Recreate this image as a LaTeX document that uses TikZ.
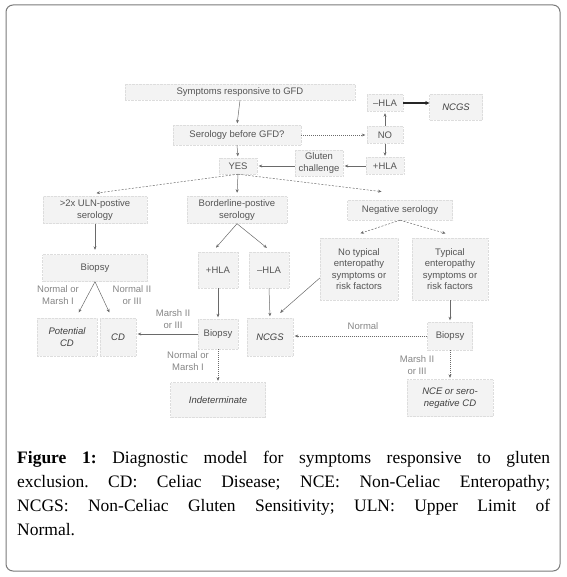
\documentclass[tikz,border=0pt]{standalone}
\usepackage{fontspec}
\setmainfont{Liberation Serif}
\newfontfamily\diagfont{Liberation Sans}
\usetikzlibrary{arrows.meta}
\definecolor{txtgray}{HTML}{555555}
\definecolor{itgray}{HTML}{404040}
\definecolor{lblgray}{HTML}{858585}
\definecolor{arrgray}{HTML}{6A6A6A}
\definecolor{boxfill}{HTML}{F3F3F3}
\definecolor{boxline}{HTML}{DDDDDD}
\definecolor{framecol}{HTML}{7A7A7A}
\tikzset{
  boxnode/.style={fill=boxfill, draw=boxline, densely dotted, align=center,
    inner sep=1pt, text=txtgray, font=\diagfont\fontsize{9.5}{11.5}\selectfont},
  itbox/.style={boxnode, text=itgray, font=\diagfont\itshape\fontsize{9.5}{11.5}\selectfont},
  lbl/.style={align=center, inner sep=0pt, text=lblgray, font=\diagfont\fontsize{9.5}{11.5}\selectfont},
  arr/.style={draw=arrgray, line width=0.5pt, shorten >=1.5pt, -{Stealth[length=3.5pt,width=3pt]}},
  dasharr/.style={arr, dash pattern=on 2pt off 1.5pt},
  dotarr/.style={arr, dash pattern=on 1pt off 1pt},
  plainln/.style={draw=arrgray, line width=0.5pt, shorten >=1.5pt, -{Stealth[length=3.5pt,width=3pt]}},
  thickarr/.style={draw=black!85, line width=1.3pt, -{Stealth[length=4pt,width=4pt]}}
}
\begin{document}
\begin{tikzpicture}[x=1pt,y=-1pt]
\useasboundingbox (0,0) rectangle (566,577);
\draw[framecol, line width=1pt, rounded corners=7pt] (6,5) rectangle (560,571);

% top part
\node[boxnode, minimum width=230pt, minimum height=16pt] (sym) at (240,92) {Symptoms responsive to GFD};
\node[boxnode, minimum width=128pt, minimum height=20pt] (ser) at (237,135) {Serology before GFD?};
\node[boxnode, minimum width=38pt, minimum height=16pt] (yes) at (238,166) {YES};
\node[boxnode, minimum width=48pt, minimum height=26pt] (glu) at (319,163) {Gluten\\challenge};
\node[boxnode, minimum width=38pt, minimum height=17pt] (phla) at (385,166) {+HLA};
\node[boxnode, minimum width=36pt, minimum height=17pt] (no) at (385,135) {NO};
\node[boxnode, minimum width=36pt, minimum height=17pt] (mhla) at (385,103) {\textendash HLA};
\node[itbox, minimum width=53pt, minimum height=26pt] (ncgsA) at (456,107) {NCGS};

\draw[arr] (sym.south) -- (ser.north);
\draw[arr] (ser.south) -- (yes.north);
\draw[dotarr] (ser.east) -- (ser.east -| no.west);
\draw[arr] (no.north) -- (mhla.south);
\draw[arr] (no.south) -- (phla.north);
\draw[arr] (phla.west) -- (phla.west -| glu.east);
\draw[arr] (glu.west |- yes.east) -- (yes.east);
\draw[thickarr] (mhla.east) -- (mhla.east -| ncgsA.west);

% second row
\node[boxnode, minimum width=104pt, minimum height=27pt] (uln) at (95,210) {>2x ULN-postive\\serology};
\node[boxnode, minimum width=100pt, minimum height=27pt] (bord) at (237,210) {Borderline-postive\\serology};
\node[boxnode, minimum width=105pt, minimum height=20pt] (neg) at (400,210) {Negative serology};

\draw[dasharr] (yes.south) -- ([yshift=3pt]uln.north);
\draw[arr] (yes.south) -- ([yshift=2pt]bord.north);
\draw[dasharr] (yes.south) -- ([xshift=-17pt,yshift=8pt]neg.north);

% third row
\node[boxnode, minimum width=105pt, minimum height=27pt] (biopL) at (95,268) {Biopsy};
\node[boxnode, minimum width=40pt, minimum height=36pt] (phlaM) at (218,270) {+HLA};
\node[boxnode, minimum width=40pt, minimum height=36pt] (mhlaM) at (269,270) {\textendash HLA};
\node[boxnode, minimum width=78pt, minimum height=62pt] (notyp) at (359,269) {No typical\\enteropathy\\symptoms or\\risk factors};
\node[boxnode, minimum width=76pt, minimum height=62pt] (typ) at (450,269) {Typical\\enteropathy\\symptoms or\\risk factors};

\draw[arr] (uln.south) -- ([yshift=3pt]biopL.north);
\draw[plainln] (bord.south) -- ([xshift=-3pt,yshift=3pt]phlaM.north);
\draw[plainln] (bord.south) -- ([xshift=-1pt,yshift=3pt]mhlaM.north);
\draw[dasharr] (neg.south) -- ([yshift=4pt]notyp.north);
\draw[dasharr] (neg.south) -- ([xshift=-3pt,yshift=4pt]typ.north);

% fourth row
\node[itbox, minimum width=60pt, minimum height=38pt] (potcd) at (67,337) {Potential\\CD};
\node[itbox, minimum width=36pt, minimum height=38pt] (cd) at (118,337) {CD};
\node[boxnode, minimum width=40pt, minimum height=30pt] (biopM) at (218,334) {Biopsy};
\node[itbox, minimum width=46pt, minimum height=38pt] (ncgsM) at (270,337) {NCGS};
\node[boxnode, minimum width=45pt, minimum height=28pt] (biopR) at (450,336) {Biopsy};

\node[lbl] (l1) at (58,295) {Normal or\\Marsh I};
\node[lbl] (l2) at (132,295) {Normal II\\or III};
\node[lbl] (l3) at (173,319) {Marsh II\\or III};
\node[lbl] (l4) at (188,361) {Normal or\\Marsh I};
\node[lbl] (l5) at (363,326) {Normal};
\node[lbl] (l6) at (417,365) {Marsh II\\or III};

\draw[plainln] (biopL.south) -- ([xshift=11pt,yshift=4pt]potcd.north);
\draw[plainln] (biopL.south) -- ([xshift=-8pt,yshift=4pt]cd.north);
\draw[arr] (phlaM.south) -- (biopM.north);
\draw[arr] (mhlaM.south) -- (ncgsM.north);
\draw[arr] ([yshift=-9pt]notyp.west) -- ([xshift=9pt,yshift=4pt]ncgsM.north);
\draw[arr] (biopM.west) -- (biopM.west -| cd.east);
\draw[arr] (typ.south) -- (biopR.north);
\draw[dotarr] (biopR.west) -- (biopR.west -| ncgsM.east);

% bottom row
\node[itbox, minimum width=95pt, minimum height=35pt] (indet) at (218,400) {Indeterminate};
\node[itbox, minimum width=86pt, minimum height=37pt] (nce) at (450,398) {NCE or sero-\\negative CD};

\draw[dotarr] (biopM.south) -- (indet.north);
\draw[dotarr] (biopR.south) -- (nce.north);

% caption
\node[anchor=north west, inner sep=0pt, text width=533pt, align=justify,
  font=\fontsize{17.5}{24}\selectfont] (cap) at (17,451)
  {\frenchspacing\tolerance=10000 \textbf{Figure 1:} Diagnostic model for symptoms responsive to gluten\linebreak
   exclusion. CD: Celiac Disease; NCE: Non-Celiac Enteropathy;\linebreak
   NCGS: Non-Celiac Gluten Sensitivity; ULN: Upper Limit of\linebreak
   Normal.};
\end{tikzpicture}
\end{document}
